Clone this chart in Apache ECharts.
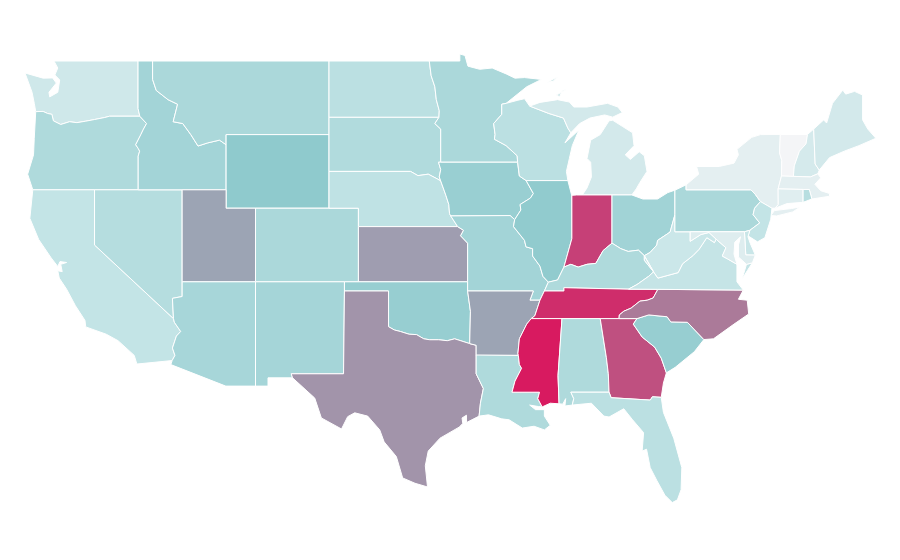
<!DOCTYPE html>
<html>
<head>
<meta charset="utf-8">
<style>
html, body { margin: 0; background: #fff; }
#main { width: 900px; height: 560px; }
</style>
<script src="https://cdn.jsdelivr.net/npm/echarts@6/dist/echarts.min.js"></script>
</head>
<body>
<div id="main"></div>
<script>
var stateNames = ['Washington','Oregon','California','Nevada','Idaho','Montana','Wyoming','Utah','Colorado','Arizona','New Mexico',
    'North Dakota','South Dakota','Nebraska','Kansas','Oklahoma','Texas','Minnesota','Iowa','Missouri','Arkansas','Louisiana',
    'Wisconsin','Illinois','Michigan','Indiana','Ohio','Kentucky','Tennessee','Mississippi','Alabama','Georgia','Florida',
    'South Carolina','North Carolina','Virginia','West Virginia','Pennsylvania','New York','Vermont','New Hampshire','Maine',
    'Massachusetts','Connecticut','Rhode Island','New Jersey','Delaware','Maryland'];
var stateValues = [18,34,24,31,40,36,50,62,36,38,39,
    28,33,26,64,46,67,36,45,40,62,34,
    28,49,16,90,41,34,95,100,34,86,28,
    46,75,23,20,36,8,0,15,16,
    8,10,30,24,21,11];
var colorStops = ['#f4f5f7', '#c1e3e5', '#8fcacd', '#ab7a99', '#d81a60'];

// shared borders, lon/lat
var columbia = [[-124,46.25],[-123.5,46.26],[-123.2,46.15],[-122.9,46.1],[-122.8,45.75],[-122.3,45.55],[-121.7,45.7],[-121.2,45.65],[-120.6,45.73],[-120,45.82],[-119.3,45.93],[-118.98,46],[-116.92,46]];
var snake = [[-116.92,46],[-116.46,45.6],[-116.67,45.3],[-116.85,45],[-117.2,44.45],[-117.03,44.25],[-116.93,44.1],[-117.03,43.83],[-117.03,42]];
var idMt = [[-116.05,48],[-115.8,47.4],[-115,46.9],[-114.35,46.65],[-114.65,45.7],[-114,45.6],[-113.45,45],[-112.96,44.38],[-112.3,44.55],[-111.5,44.7],[-111.05,44.45]];
var colorado = [[-114.63,35],[-114.57,34.8],[-114.14,34.3],[-114.43,34.05],[-114.7,33.4],[-114.53,33],[-114.72,32.72]];
var redNorth = [[-97.23,49],[-97.1,48.2],[-96.85,47.6],[-96.75,46.9],[-96.55,46.3],[-96.57,45.94]];
var sdMn = [[-96.57,45.94],[-96.85,45.6],[-96.45,45.3],[-96.45,43.5]];
var sdIa = [[-96.45,43.5],[-96.6,43.5],[-96.45,43.1],[-96.55,42.7],[-96.45,42.48]];
var neSd = [[-104.05,43],[-98.5,43],[-98,42.77],[-97.3,42.85],[-96.7,42.6],[-96.45,42.48]];
var neIa = [[-96.45,42.48],[-96.1,41.7],[-95.9,41.2],[-95.85,40.7],[-95.77,40.58]];
var ksMo = [[-95.3,40],[-94.9,39.8],[-95.1,39.5],[-94.62,39.1],[-94.62,37]];
var stCroix = [[-92,46.7],[-92.3,46.65],[-92.3,46.1],[-92.85,45.6],[-92.75,45],[-92.8,44.75],[-92,44.4],[-91.25,43.85],[-91.22,43.5]];
var wiIa = [[-91.22,43.5],[-91.1,42.75],[-90.64,42.5]];
var iaIl = [[-90.64,42.5],[-90.15,41.8],[-90.35,41.55],[-91.05,41.2],[-91,40.9],[-91.42,40.38]];
var moIl = [[-91.42,40.38],[-91.5,40],[-90.75,39.25],[-90.65,38.9],[-90.2,38.8],[-90.2,38.4],[-89.7,37.85],[-89.5,37.3],[-89.13,36.98]];
var arRiver = [[-89.7,36],[-90.05,35.15],[-90.3,35],[-90.6,34.7],[-91.1,33.9],[-91.2,33.1],[-91.17,33]];
var laMs = [[-91.17,33],[-91.1,32.5],[-90.95,32.3],[-91.4,31.6],[-91.6,31],[-89.73,31],[-89.85,30.65],[-89.55,30.2]];
var red = [[-100,36.5],[-100,34.56],[-99.6,34.38],[-99.2,34.3],[-98.6,34.15],[-98.1,34.13],[-97.6,33.9],[-97.2,33.85],[-96.6,33.85],[-96,33.8],[-95.5,33.9],[-94.48,33.64]];
var txLa = [[-94.04,33.02],[-94.04,32],[-93.55,31.2],[-93.75,30.4],[-93.84,29.7]];
var ohioIl = [[-89.13,36.98],[-88.5,37.1],[-88.07,37.8]];
var ohioIn = [[-88.07,37.8],[-87.6,37.95],[-87.1,37.8],[-86.5,37.95],[-85.9,38],[-85.4,38.7],[-84.8,39.1]];
var ohioOh = [[-84.8,39.1],[-84.2,38.8],[-83.7,38.65],[-83,38.72],[-82.6,38.42]];
var ohioWv = [[-82.6,38.42],[-82.2,38.6],[-81.75,39],[-81.7,39.25],[-80.85,39.7],[-80.52,40.64]];
var kyWv = [[-82.6,38.42],[-82.6,38.17],[-81.97,37.54]];
var kyVa = [[-81.97,37.54],[-82.3,37.3],[-83.1,36.85],[-83.68,36.6]];
var kyTn = [[-83.68,36.6],[-86.5,36.65],[-88.07,36.68],[-88.07,36.5],[-89.4,36.5]];
var vaWv = [[-81.97,37.54],[-81.68,37.2],[-80.3,37.5],[-80,37.98],[-79.3,38.42],[-78.87,38.77],[-78.35,39.4],[-77.83,39.13],[-77.72,39.32]];
var mdWv = [[-77.72,39.32],[-78.2,39.68],[-78.75,39.57],[-79.48,39.2],[-79.48,39.72]];
var potomac = [[-77.72,39.32],[-77.05,38.85],[-77.3,38.4],[-76.95,38.25],[-76.3,37.95]];
var tnNc = [[-84.32,35],[-84.3,35.2],[-84,35.4],[-83.5,35.57],[-82.9,35.95],[-82.4,36],[-82,36.12],[-81.68,36.59]];
var ncSc = [[-78.55,33.86],[-79.67,34.8],[-80.8,34.82],[-81.05,35.1],[-82.3,35.2],[-83.1,35]];
var savannah = [[-83.1,35],[-83.35,34.7],[-82.75,34],[-81.9,33.45],[-81.45,32.85],[-81.1,32.05]];
var gaFl = [[-84.86,30.7],[-82.2,30.57],[-82.05,30.75],[-81.45,30.72]];
var alGa = [[-85.6,35],[-85.18,32.87],[-85.05,32],[-85,31]];
var delawareR = [[-74.7,41.36],[-75.1,41],[-75.2,40.65],[-74.75,40.2],[-75.42,39.8]];
var paNy = [[-79.76,42.27],[-79.76,42],[-75.35,42],[-75.05,41.75],[-74.7,41.36]];
var vtNh = [[-71.5,45.01],[-71.6,44.5],[-72.05,44.1],[-72.4,43.3],[-72.46,42.73]];
var vtNy = [[-73.35,45.01],[-73.4,44],[-73.25,43.6],[-73.27,42.75]];

function rv(a) { return a.slice().reverse(); }
function ring() { return [].concat.apply([], arguments); }

var shapes = {
    'Washington': [ring(columbia, [[-117.04,46.42],[-117.04,49],[-122.76,49],[-122.5,48.62],[-122.7,48.24],[-122.37,47.97],[-122.5,47.3],[-123.05,47.05],[-123.1,47.3],[-122.6,47.8],[-122.85,48.08],[-123.5,48.07],[-124.73,48.35],[-124.25,47.3],[-124.1,46.7]])],
    'Oregon': [ring(columbia, snake, [[-124.2,42],[-124.55,42.85],[-124.15,43.9],[-124.1,44.8]])],
    'California': [ring([[-124.2,42],[-120,42],[-120,39]], colorado, [[-117.12,32.53],[-117.3,33],[-118.4,33.8],[-119.2,34.15],[-120.6,34.55],[-120.65,34.9],[-121.3,35.7],[-121.9,36.6],[-122.4,37.2],[-122.5,37.6],[-122.2,37.55],[-122.3,37.95],[-121.9,38.05],[-122.35,38.1],[-122.5,37.83],[-122.95,38.3],[-123.8,39.3],[-124.4,40.45]])],
    'Nevada': [[[-120,42],[-114.04,42],[-114.04,36.2],[-114.7,36.1],[-114.63,35],[-120,39]]],
    'Idaho': [ring([[-117.04,49],[-116.05,49]], idMt, [[-111.05,42],[-117.03,42]], rv(snake), [[-117.04,46.42]])],
    'Montana': [ring([[-116.05,49],[-104.05,49],[-104.05,45],[-111.05,45]], rv(idMt))],
    'Wyoming': [[[-111.05,45],[-104.05,45],[-104.05,41],[-111.05,41]]],
    'Utah': [[[-114.04,42],[-111.05,42],[-111.05,41],[-109.05,41],[-109.05,37],[-114.04,37]]],
    'Colorado': [[[-109.05,41],[-102.05,41],[-102.05,37],[-109.05,37]]],
    'Arizona': [ring([[-114.04,37],[-109.05,37],[-109.05,31.33],[-111.07,31.33],[-114.81,32.5]], rv(colorado), [[-114.7,36.1],[-114.04,36.2]])],
    'New Mexico': [[[-109.05,37],[-103,37],[-103,36.5],[-103.06,32],[-106.62,32],[-106.53,31.78],[-108.2,31.78],[-108.2,31.33],[-109.05,31.33]]],
    'North Dakota': [ring([[-104.05,49]], redNorth, [[-104.05,45.94]])],
    'South Dakota': [ring([[-104.05,45.94]], sdMn, sdIa, rv(neSd))],
    'Nebraska': [ring(neSd, neIa, [[-95.3,40],[-102.05,40],[-102.05,41],[-104.05,41]])],
    'Kansas': [ring([[-102.05,40]], ksMo, [[-102.05,37]])],
    'Oklahoma': [ring([[-103,37],[-94.62,37],[-94.62,36.5],[-94.43,35.4]], rv(red), [[-103,36.5]])],
    'Texas': [ring([[-103,36.5]], red, [[-94.04,33.55]], txLa, [[-94.7,29.35],[-94.7,29.75],[-95,29.6],[-94.95,29.3],[-95.2,29.1],[-96.5,28.5],[-97.3,27.8],[-97.5,27],[-97.35,25.85],[-98.2,26.05],[-99.04,26.34],[-99.47,27.5],[-100.3,28.3],[-100.6,28.95],[-101.42,29.7],[-102.3,29.88],[-102.78,29.67],[-103.2,29],[-104.57,29.6],[-105.02,30.68],[-106.53,31.78],[-106.62,32],[-103.06,32]])],
    'Minnesota': [ring([[-97.23,49],[-95.15,49],[-95.15,49.38],[-94.8,49.3],[-94.6,48.72],[-93.8,48.55],[-92.95,48.62],[-92,48.3],[-91.4,48.07],[-90.75,48.1],[-89.6,48],[-90.6,47.6]], stCroix, rv(sdMn), rv(redNorth))],
    'Iowa': [ring([[-96.45,43.5]], wiIa, iaIl, [[-91.73,40.6]], rv(neIa), rv(sdIa))],
    'Missouri': [ring([[-95.77,40.58],[-91.73,40.6]], moIl, [[-89.4,36.5],[-89.7,36],[-90.38,36],[-90.15,36.5],[-94.62,36.5]], rv(ksMo))],
    'Arkansas': [ring([[-94.62,36.5],[-90.15,36.5],[-90.38,36]], arRiver, [[-94.04,33],[-94.04,33.55],[-94.48,33.64],[-94.43,35.4]])],
    'Louisiana': [ring([[-94.04,33.02]], laMs, [[-89.8,30.22],[-90.4,30.3],[-90,30.05],[-89.4,30.05],[-89.4,29.7],[-89,29.2],[-89.4,28.95],[-90.1,29.15],[-90.9,29.05],[-91.8,29.5],[-92.3,29.55],[-93.2,29.77]], rv(txLa))],
    'Wisconsin': [ring([[-92,46.7],[-91.2,46.87],[-90.75,46.95],[-90.4,46.55],[-89.1,46.15],[-88.1,45.9],[-87.8,45.35],[-87.6,45.1],[-88,44.55],[-87.05,45.25],[-87.5,44.4],[-87.7,43.7],[-87.9,43],[-87.8,42.5],[-90.64,42.5]], rv(wiIa), rv(stCroix))],
    'Illinois': [ring([[-90.64,42.5],[-87.8,42.5],[-87.55,41.72],[-87.53,41.7],[-87.53,39.35]], rv(ohioIl), rv(moIl), rv(iaIl))],
    'Michigan': [
        [[-86.82,41.72],[-86.5,42.1],[-86.2,42.7],[-86.25,43.5],[-86.5,43.7],[-86.25,44.7],[-85.6,45],[-85,45.75],[-84.75,45.78],[-84.1,45.45],[-83.4,45.1],[-83.3,44.4],[-83.9,43.9],[-83.55,43.65],[-82.95,44.07],[-82.6,43.85],[-82.42,43],[-82.9,42.4],[-83.15,42.05],[-83.45,41.72]],
        [[-90.4,46.55],[-89.7,46.75],[-88.5,46.9],[-87.7,46.77],[-87.4,46.5],[-86.5,46.5],[-85.1,46.7],[-84.4,46.5],[-84.1,46.2],[-84.75,45.95],[-85.3,46.07],[-86.3,45.9],[-87,45.6],[-87.6,45.1],[-87.8,45.35],[-88.1,45.9],[-89.1,46.15]],
        [[-88.6,47.15],[-87.9,47.45],[-88.2,47.4],[-88.35,47.05]],
        [[-89.2,47.85],[-88.5,48.15],[-88.8,47.9]]
    ],
    'Indiana': [ring([[-87.53,41.7],[-87.2,41.72],[-84.8,41.72]], rv(ohioIn), [[-87.53,39.35]])],
    'Ohio': [ring([[-84.8,41.72],[-83.45,41.72],[-82.7,41.5],[-81.7,41.5],[-81,41.85],[-80.52,41.98],[-80.52,40.64]], rv(ohioWv), rv(ohioOh))],
    'Kentucky': [ring(ohioIl, ohioIn, ohioOh, kyWv, kyVa, kyTn)],
    'Tennessee': [ring(kyTn, [[-89.7,36],[-90.05,35.15],[-90.3,35]], tnNc)],
    'Mississippi': [ring([[-90.3,35],[-90.6,34.7],[-91.1,33.9],[-91.2,33.1]], laMs, [[-89,30.4],[-88.4,30.37],[-88.47,31.9],[-88.2,35]])],
    'Alabama': [ring([[-88.2,35]], alGa, [[-87.6,31],[-87.4,30.65],[-87.5,30.3],[-88,30.25],[-87.95,30.65],[-88.15,30.35],[-88.4,30.37],[-88.47,31.9]])],
    'Georgia': [ring(alGa.slice(0, 1), [[-84.32,35],[-83.1,35]], savannah, [[-81.3,31.5]], rv(gaFl), rv(alGa).slice(0, 3))],
    'Florida': [ring([[-87.6,31],[-85,31]], gaFl, [[-81.3,29.9],[-80.6,28.5],[-80.05,26.9],[-80.1,25.7],[-80.35,25.15],[-80.7,25],[-81.2,25.4],[-81.75,26.2],[-82.2,26.9],[-82.45,27.9],[-82.75,27.8],[-82.65,28.8],[-83.4,29.5],[-84,30.1],[-85,29.65],[-85.35,29.7],[-86.2,30.4],[-87.5,30.3],[-87.4,30.65]])],
    'South Carolina': [ring(ncSc, savannah.slice(1), [[-80.5,32.35],[-79.2,33.2]])],
    'North Carolina': [ring([[-75.87,36.55],[-76.2,36.05],[-75.6,36],[-75.5,35.25],[-76.5,34.7],[-77.9,33.9]], ncSc, tnNc)],
    'Virginia': [
        ring(rv(kyVa), vaWv, potomac, [[-76.3,37],[-75.87,36.55],[-81.68,36.59]]),
        [[-75.95,37.15],[-75.6,37.6],[-75.25,38.03],[-75.65,37.95]]
    ],
    'West Virginia': [ring(kyWv, ohioWv, [[-80.52,39.72]], rv(mdWv), rv(vaWv))],
    'Pennsylvania': [ring([[-80.52,41.98]], paNy, delawareR, [[-75.79,39.72],[-80.52,39.72],[-80.52,40.64]])],
    'New York': [
        ring(paNy, [[-73.92,41],[-73.7,41],[-73.49,41.2],[-73.5,42.05]], rv(vtNy), [[-74.7,45],[-75.3,44.85],[-76.3,44.2],[-76.2,43.9],[-76.5,43.45],[-77.5,43.27],[-79.05,43.27],[-78.9,42.85]]),
        [[-74,40.6],[-73.75,40.87],[-72.6,40.98],[-72,41.07],[-72.5,40.8],[-73.6,40.58]]
    ],
    'Vermont': [ring(vtNy.slice(0, 1), vtNh, rv(vtNy))],
    'New Hampshire': [ring([[-71.08,45.3],[-70.98,43.4],[-70.7,43.07],[-70.8,42.87],[-71.3,42.7]], rv(vtNh))],
    'Maine': [[[-71.08,45.3],[-70.4,45.8],[-70.2,45.63],[-69.8,46.7],[-69.1,47.42],[-68.9,47.2],[-68.3,47.35],[-67.75,47.15],[-67.75,45.8],[-67.4,45.3],[-66.85,44.8],[-68,44.4],[-69,44.1],[-70,43.75],[-70.7,43.07],[-70.98,43.4]]],
    'Massachusetts': [[[-73.27,42.75],[-71.3,42.7],[-70.8,42.87],[-70.6,42.65],[-71,42.3],[-70.6,41.95],[-70,41.8],[-70,41.65],[-71.2,41.5],[-71.38,42.02],[-71.8,42.02],[-73.5,42.05]]],
    'Connecticut': [[[-73.5,42.05],[-71.8,42.02],[-71.8,41.32],[-72.9,41.25],[-73.7,41],[-73.49,41.2]]],
    'Rhode Island': [[[-71.8,42.02],[-71.38,42.02],[-71.2,41.5],[-71.8,41.32]]],
    'New Jersey': [ring(delawareR, [[-75.55,39.5],[-74.9,39.17],[-74.4,39.4],[-74,40.4],[-73.92,41]])],
    'Delaware': [[[-75.79,39.72],[-75.42,39.8],[-75.55,39.45],[-75.4,39.1],[-75.05,38.45],[-75.7,38.46]]],
    'Maryland': [ring([[-79.48,39.72],[-75.79,39.72],[-75.7,38.46],[-75.05,38.45],[-75.25,38.03],[-75.65,37.95],[-76.2,38.35],[-76.2,39],[-76.05,39.45],[-76.45,39.15],[-76.5,38.5]], rv(potomac), mdWv.slice(1, 4))]
};

var usa = {
    type: 'FeatureCollection',
    features: stateNames.map(function (name) {
        return {
            type: 'Feature',
            properties: { name: name },
            geometry: { type: 'MultiPolygon', coordinates: shapes[name].map(function (r) { return [r]; }) }
        };
    })
};
echarts.registerMap('usa', usa);

var chart = echarts.init(document.getElementById('main'));
chart.setOption({
    backgroundColor: '#fff',
    animation: false,
    visualMap: {
        show: false,
        min: 0,
        max: 100,
        inRange: { color: colorStops }
    },
    series: [{
        type: 'map',
        map: 'usa',
        roam: false,
        selectedMode: false,
        boundingCoords: [[-124.73, 49], [-66.95, 25]],
        aspectScale: 0.799,
        layoutCenter: [449.7, 281.8],
        layoutSize: 849.4,
        label: { show: false },
        itemStyle: { borderColor: '#fff', borderWidth: 1 },
        emphasis: { disabled: true },
        data: stateNames.map(function (name, i) {
            return { name: name, value: stateValues[i] };
        })
    }]
});
</script>
</body>
</html>
